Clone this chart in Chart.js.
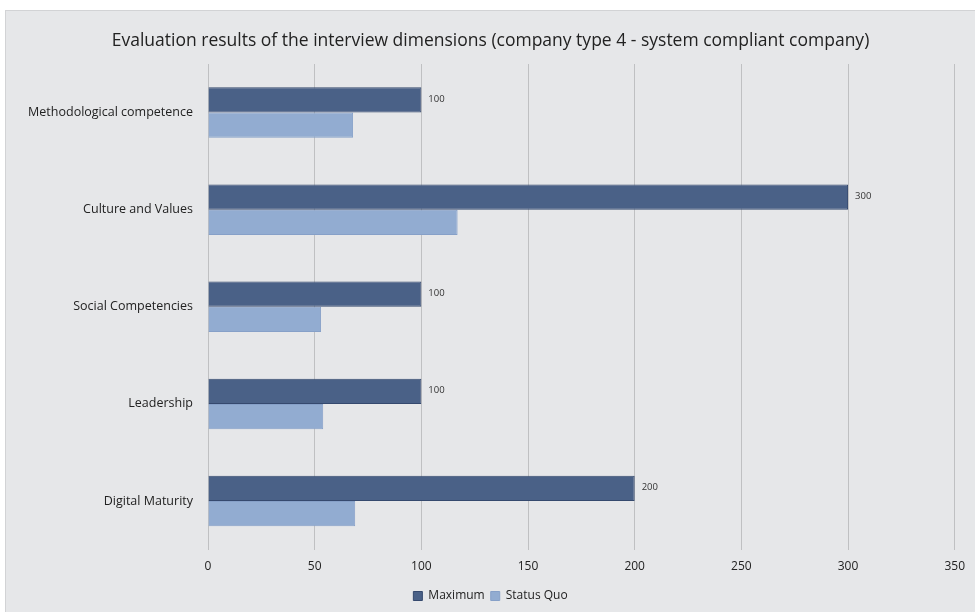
<!DOCTYPE html>
<html>
<head>
<meta charset="utf-8">
<script src="https://cdn.jsdelivr.net/npm/chart.js@4/dist/chart.umd.min.js"></script>
<style>
    html, body { margin: 0; padding: 0; background: #ffffff; }
    .frame {
        position: absolute;
        left: 5px;
        top: 10px;
        width: 970px;
        height: 602px;
        border-top: 1px solid #d2d3d5;
        border-left: 1px solid #d2d3d5;
        background: #e6e7e9;
    }
    .frame canvas { display: block; }
</style>
</head>
<body>
<div class="frame">
    <canvas id="evalChart" width="969" height="601"></canvas>
</div>
<script>
const categories = ['Methodological competence', 'Culture and Values', 'Social Competencies', 'Leadership', 'Digital Maturity'];
const maximumValues = [100, 300, 100, 100, 200];
const statusQuoValues = [68, 117, 53, 54, 69];
const xTickMax = 350;
const xTickStep = 50;

// draws the value next to each "Maximum" bar
const barValueLabels = {
    id: 'barValueLabels',
    afterDatasetsDraw(chart) {
        const ctx = chart.ctx;
        const meta = chart.getDatasetMeta(0);
        ctx.save();
        ctx.font = '9.5px "Open Sans", sans-serif';
        ctx.fillStyle = '#333333';
        ctx.textAlign = 'left';
        ctx.textBaseline = 'middle';
        meta.data.forEach(function (bar, i) {
            ctx.fillText(chart.data.datasets[0].data[i], bar.x + 7, bar.y - 1);
        });
        ctx.restore();
    }
};

const evalCtx = document.getElementById('evalChart').getContext('2d');
const evalChart = new Chart(evalCtx, {
    type: 'bar',
    data: {
        labels: categories,
        datasets: [{
            label: 'Maximum',
            data: maximumValues,
            backgroundColor: '#4a6187',
            borderColor: '#35496e',
            borderWidth: 1,
            categoryPercentage: 0.52,
            barPercentage: 1
        }, {
            label: 'Status Quo',
            data: statusQuoValues,
            backgroundColor: '#92acd1',
            borderColor: '#86a0c8',
            borderWidth: 1,
            categoryPercentage: 0.52,
            barPercentage: 1
        }]
    },
    options: {
        indexAxis: 'y',
        responsive: false,
        animation: false,
        layout: {
            padding: { left: 17, right: 17, top: 0, bottom: 0 }
        },
        plugins: {
            title: {
                display: true,
                text: 'Evaluation results of the interview dimensions (company type 4 - system compliant company)',
                color: '#222222',
                font: { family: '"Open Sans", sans-serif', size: 17.5, weight: 'normal' },
                padding: { top: 20, bottom: 12 }
            },
            legend: {
                position: 'bottom',
                labels: {
                    color: '#222222',
                    font: { family: '"Open Sans", sans-serif', size: 12 },
                    boxWidth: 9,
                    boxHeight: 9,
                    padding: 6
                }
            },
            tooltip: { enabled: false }
        },
        scales: {
            x: {
                min: 0,
                max: xTickMax,
                ticks: {
                    stepSize: xTickStep,
                    color: '#222222',
                    font: { family: '"Open Sans", sans-serif', size: 12 },
                    padding: 10
                },
                grid: {
                    color: '#bfc0c2',
                    drawTicks: false
                },
                border: { display: false }
            },
            y: {
                ticks: {
                    color: '#222222',
                    font: { family: '"Open Sans", sans-serif', size: 12.5 },
                    padding: 15
                },
                grid: { display: false, drawTicks: false },
                border: { display: false },
                afterFit: function (scale) {
                    scale.width = 185;
                }
            }
        }
    },
    plugins: [barValueLabels]
});
</script>
</body>
</html>
